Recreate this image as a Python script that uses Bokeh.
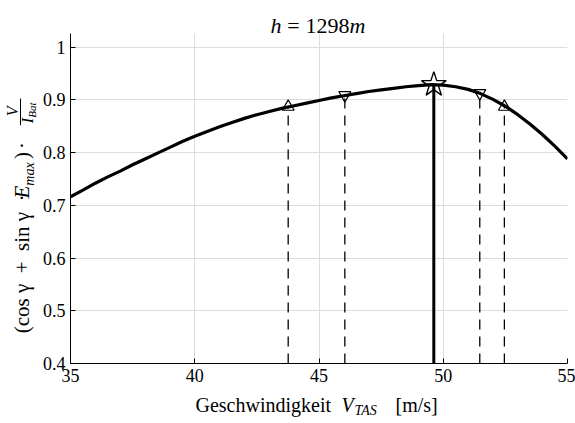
import numpy as np
from bokeh.plotting import figure
from bokeh.layouts import column, row
from bokeh.models import Range1d, FixedTicker, NumeralTickFormatter
from bokeh.core.properties import value
from bokeh.embed import file_html
from bokeh.resources import INLINE

# ---- data ----
v_tas = [35, 35.5, 36, 36.5, 37, 37.5, 38, 38.5, 39, 39.5, 40, 40.5, 41, 41.5, 42, 42.5,
         43, 43.5, 44, 44.5, 45, 45.5, 46, 46.5, 47, 47.5, 48, 48.5, 49, 49.5, 50, 50.5,
         51, 51.5, 52, 52.5, 53, 53.5, 54, 54.5, 55]
eff = [0.716, 0.729, 0.742, 0.754, 0.765, 0.777, 0.788, 0.799, 0.810, 0.821, 0.831, 0.840,
       0.849, 0.857, 0.865, 0.872, 0.878, 0.884, 0.889, 0.894, 0.899, 0.904, 0.908, 0.912,
       0.916, 0.919, 0.922, 0.925, 0.927, 0.929, 0.928, 0.925, 0.920, 0.912, 0.901, 0.888,
       0.872, 0.854, 0.834, 0.812, 0.788]

up_x = [43.76, 52.46]
up_y = [0.887, 0.887]
down_x = [46.04, 51.47]
down_y = [0.909, 0.913]
opt_x = [49.62]
opt_y = [0.929]

x_ticks = [35, 40, 45, 50, 55]
y_ticks = [0.4, 0.5, 0.6, 0.7, 0.8, 0.9, 1.0]
x_min, x_max = 35, 55
y_min, y_max = 0.4, 1.026

title_parts = ["h", "=", "1298", "m"]
x_label_parts = ["Geschwindigkeit", "V", "TAS", "[m/s]"]
y_label_parts = ["(cos γ\u2002+\u2002sin γ\u2002·", "E", "max", ")", "·", "V", "I", "Bat"]

FONT = "Liberation Serif"
W, H = 575, 423
TOP = 33          # title strip height
YLW = 38          # y-label strip width
MAIN_H = 360      # main figure height (frame 330 + 30 for tick labels)
XLH = H - TOP - MAIN_H
DESC = 0.22       # approx. font descent (em) used to anchor texts at their bottom


def strip(w, h):
    f = figure(width=w, height=h, output_backend="svg", toolbar_location=None,
               x_range=Range1d(0, w), y_range=Range1d(0, h),
               x_axis_location=None, y_axis_location=None,
               min_border=0, min_border_left=0, min_border_right=0,
               min_border_top=0, min_border_bottom=0)
    f.grid.visible = False
    f.outline_line_color = None
    f.background_fill_color = "white"
    f.border_fill_color = "white"
    return f


def txt(f, x, y, text, size, style="normal", angle=0.0, align="left", bottom=True):
    # (x, y) is the alphabetic baseline point; optionally anchor at the text bottom
    if bottom:
        d = DESC * size
        ax_ = x + d * np.sin(angle)
        ay_ = y - d * np.cos(angle)
        base = "bottom"
    else:
        ax_, ay_, base = x, y, "alphabetic"
    f.text(x=[ax_], y=[ay_], text=[text], angle=angle, text_font=value(FONT),
           text_font_size=value(f"{size}px"), text_font_style=style,
           text_align=align, text_baseline=base, text_color="black")


# ---- main plot ----
p = figure(width=W - YLW, height=MAIN_H, output_backend="svg", toolbar_location=None,
           x_range=Range1d(x_min, x_max), y_range=Range1d(y_min, y_max),
           min_border_left=70 - YLW, min_border_right=8, min_border_top=0, min_border_bottom=30)
p.outline_line_color = None
p.background_fill_color = "white"
p.border_fill_color = "white"

for g in (p.xgrid, p.ygrid):
    g.grid_line_color = "#dcdcdc"
    g.grid_line_width = 1
p.xgrid.ticker = FixedTicker(ticks=x_ticks)
p.ygrid.ticker = FixedTicker(ticks=y_ticks)

p.xaxis.ticker = FixedTicker(ticks=x_ticks)
p.yaxis.ticker = FixedTicker(ticks=y_ticks)
p.yaxis.formatter = NumeralTickFormatter(format="0.[0]")
for ax in (p.xaxis[0], p.yaxis[0]):
    ax.axis_line_color = "black"
    ax.axis_line_width = 1
    ax.major_tick_in = 5
    ax.major_tick_out = 0
    ax.minor_tick_in = 0
    ax.minor_tick_out = 0
    ax.major_tick_line_color = "black"
    ax.major_label_text_font = FONT
    ax.major_label_text_font_size = "18px"
    ax.major_label_text_color = "black"
p.xaxis.major_label_standoff = 5
p.yaxis.major_label_standoff = 5

# dashed verticals
p.segment(x0=up_x + down_x, y0=[y_min] * 4, x1=up_x + down_x, y1=up_y + down_y,
          line_color="black", line_width=1.3, line_dash="10 7")
# optimum solid vertical
p.segment(x0=opt_x, y0=[y_min], x1=opt_x, y1=opt_y, line_color="black", line_width=3)

# curve
p.line(v_tas, eff, line_color="black", line_width=3.2, line_join="round")

# markers
p.scatter(up_x, up_y, marker="triangle", size=12, fill_alpha=0, line_color="black", line_width=1.2)
p.scatter(down_x, down_y, marker="inverted_triangle", size=12, fill_alpha=0, line_color="black", line_width=1.2)
p.scatter(opt_x, opt_y, marker="star", size=26, fill_alpha=0, line_color="black", line_width=1.4)

# ---- title strip ----
t = strip(W, TOP)
tb = TOP - 25   # baseline
txt(t, 270, tb, title_parts[0], 22, "italic", bottom=False)
txt(t, 293, tb, title_parts[1], 22, align="center", bottom=False)
txt(t, 305, tb, title_parts[2], 22, bottom=False)
txt(t, 349, tb, title_parts[3], 22, "italic", bottom=False)

# ---- y label strip (canvas y -> strip y) ----
yl = strip(YLW, MAIN_H)
def cy(yc):
    return TOP + MAIN_H - yc
R = np.pi / 2
txt(yl, 29, cy(360), y_label_parts[0], 21, angle=R)
txt(yl, 29, cy(213), y_label_parts[1], 21, "italic", angle=R)
txt(yl, 33, cy(199), y_label_parts[2], 14, "italic", angle=R)
txt(yl, 29, cy(170), y_label_parts[3], 21, angle=R)
txt(yl, 29, cy(159), y_label_parts[4], 21, angle=R)
txt(yl, 17, cy(118), y_label_parts[5], 16, "italic", angle=R, align="center")
txt(yl, 32, cy(131), y_label_parts[6], 16, "italic", angle=R)
txt(yl, 35, cy(125), y_label_parts[7], 11, "italic", angle=R)
yl.segment(x0=[20], y0=[cy(104)], x1=[20], y1=[cy(133)], line_color="black", line_width=1)

# ---- x label strip ----
xl = strip(W, XLH)
def cx(yc):
    return H - yc
txt(xl, 195, cx(411), x_label_parts[0], 20)
txt(xl, 341, cx(411), x_label_parts[1], 20, "italic")
txt(xl, 354, cx(414), x_label_parts[2], 14, "italic")
txt(xl, 395, cx(411), x_label_parts[3], 20)

layout = column(t, row(yl, p, spacing=0), xl, spacing=0)

open("out.html", "w").write(file_html(layout, INLINE))
